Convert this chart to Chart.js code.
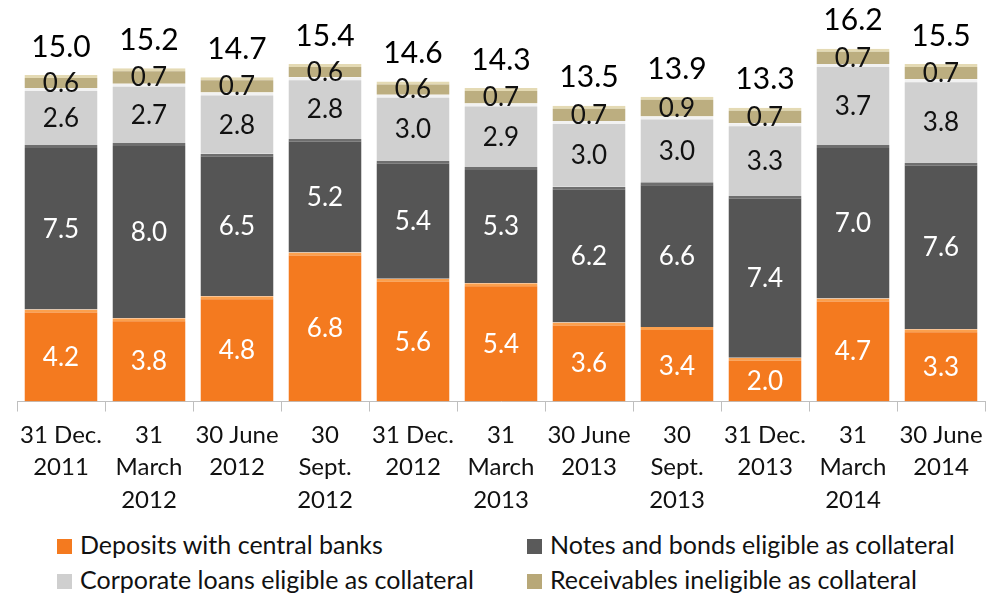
<!DOCTYPE html>
<html>
<head>
<meta charset="utf-8">
<script src="https://cdn.jsdelivr.net/npm/chart.js@4"></script>
<style>
  html, body { margin: 0; padding: 0; background: #fff; }
  #wrap { position: relative; width: 994px; height: 598px; }
  #chart { position: absolute; left: 0; top: 0; }
  .legend { position: absolute; font-family: Lato, "Noto Sans", sans-serif; font-size: 25px; color: #111; line-height: 30px; }
  .legend span.box { display: inline-block; width: 15px; height: 15px; margin-right: 8px; vertical-align: 0px; }
</style>
</head>
<body>
<div id="wrap">
  <canvas id="chart" width="994" height="524"></canvas>
  <div class="legend" style="left:57px; top:529px;"><span class="box" style="background:#F47A1F"></span>Deposits with central banks</div>
  <div class="legend" style="left:527px; top:529px;"><span class="box" style="background:#5a5a5a"></span>Notes and bonds eligible as collateral</div>
  <div class="legend" style="left:57px; top:564px;"><span class="box" style="background:#cfcfcf"></span>Corporate loans eligible as collateral</div>
  <div class="legend" style="left:527px; top:564px;"><span class="box" style="background:#b8a878"></span>Receivables ineligible as collateral</div>
</div>
<script>
const periods = [
  ["31 Dec.", "2011"], ["31", "March", "2012"], ["30 June", "2012"], ["30", "Sept.", "2012"],
  ["31 Dec.", "2012"], ["31", "March", "2013"], ["30 June", "2013"], ["30", "Sept.", "2013"],
  ["31 Dec.", "2013"], ["31", "March", "2014"], ["30 June", "2014"]
];
const deposits    = [4.2, 3.8, 4.8, 6.8, 5.6, 5.4, 3.6, 3.4, 2.0, 4.7, 3.3];
const notesBonds  = [7.5, 8.0, 6.5, 5.2, 5.4, 5.3, 6.2, 6.6, 7.4, 7.0, 7.6];
const corpLoans   = [2.6, 2.7, 2.8, 2.8, 3.0, 2.9, 3.0, 3.0, 3.3, 3.7, 3.8];
const receivables = [0.6, 0.7, 0.7, 0.6, 0.6, 0.7, 0.7, 0.9, 0.7, 0.7, 0.7];
const totals      = [15.0, 15.2, 14.7, 15.4, 14.6, 14.3, 13.5, 13.9, 13.3, 16.2, 15.5];

const FONT = "Lato, 'Noto Sans', sans-serif";

// value labels inside each segment plus the total above each bar
const barLabels = {
  id: "barLabels",
  afterDatasetsDraw(chart) {
    const ctx = chart.ctx;
    ctx.save();
    ctx.textAlign = "center";
    ctx.textBaseline = "middle";
    ctx.font = "26px " + FONT;
    chart.data.datasets.forEach((ds, i) => {
      const meta = chart.getDatasetMeta(i);
      meta.data.forEach((bar, j) => {
        ctx.fillStyle = ds.labelColor;
        ctx.fillText(ds.data[j].toFixed(1), bar.x, (bar.y + bar.base) / 2 + 2);
      });
    });
    const top = chart.getDatasetMeta(chart.data.datasets.length - 1);
    ctx.font = "30px " + FONT;
    ctx.fillStyle = "#000";
    top.data.forEach((bar, j) => {
      ctx.fillText(totals[j].toFixed(1), bar.x, bar.y - 28);
    });
    ctx.restore();
  }
};

function series(label, data, fill, edge, labelColor) {
  return {
    label: label,
    data: data,
    backgroundColor: fill,
    borderColor: edge,
    borderWidth: { top: 3, left: 0, right: 0, bottom: 0 },
    borderSkipped: false,
    labelColor: labelColor,
    categoryPercentage: 1,
    barPercentage: 0.83
  };
}

new Chart(document.getElementById("chart"), {
  type: "bar",
  data: {
    labels: periods,
    datasets: [
      series("Deposits with central banks", deposits, "#F47A1F", "#FBA04E", "#fff"),
      series("Notes and bonds eligible as collateral", notesBonds, "#555555", "#6e6e6e", "#fff"),
      series("Corporate loans eligible as collateral", corpLoans, "#d0d0d0", "#f2f2f2", "#111"),
      series("Receivables ineligible as collateral", receivables, "#bcae80", "#e4dab4", "#111")
    ]
  },
  options: {
    responsive: false,
    animation: false,
    layout: { padding: { left: 17, right: 9, top: 7, bottom: 0 } },
    plugins: { legend: { display: false }, tooltip: { enabled: false } },
    scales: {
      x: {
        stacked: true,
        grid: { drawOnChartArea: false, drawTicks: true, tickLength: 10, color: "#bfbfbf", offset: true },
        border: { color: "#bfbfbf", width: 1 },
        ticks: { color: "#111", font: { family: FONT, size: 24, lineHeight: 1.34 }, maxRotation: 0, autoSkip: false, padding: 8 }
      },
      y: {
        stacked: true,
        display: false,
        min: 0,
        max: 18
      }
    }
  },
  plugins: [barLabels]
});
</script>
</body>
</html>
